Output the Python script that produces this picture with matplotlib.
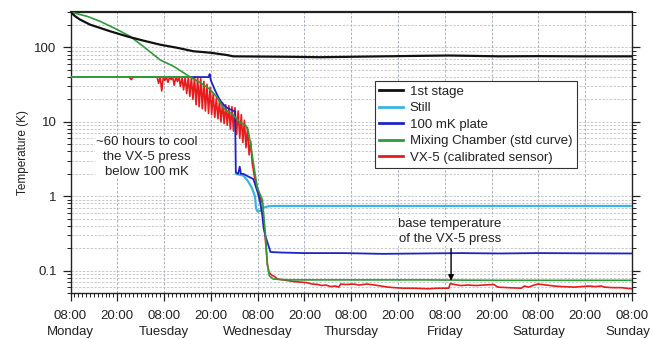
import matplotlib
matplotlib.use("Agg")
import matplotlib.pyplot as plt
from matplotlib.ticker import FixedLocator, MultipleLocator, NullFormatter, LogLocator
from matplotlib.transforms import blended_transform_factory

plt.rcParams['font.family'] = ['Liberation Sans', 'DejaVu Sans']

# ---------------- data (hours since Monday 08:00, temperature in K) ----------------
stage1_t = [0, 1.2, 2.4, 5, 10.2, 14.5, 18.6, 23, 27.4, 31.5, 35.9, 40.2, 41.8, 48.7, 56, 64, 72, 80, 88, 97, 104, 110, 120, 130, 144]
stage1_T = [300, 263, 238, 203, 165, 141, 124, 109, 99, 89, 85, 79, 76, 75.5, 75, 74, 75, 76, 77, 78, 77, 76, 76.5, 76, 76]

still_t = [42.4, 44.3, 45.5, 46.5, 47.3, 47.6, 48.0, 48.8, 49.5, 50.5, 52, 60, 70, 80, 90, 100, 110, 120, 130, 144]
still_T = [2.0, 1.9, 1.6, 1.3, 1.0, 0.68, 0.62, 0.64, 0.70, 0.73, 0.74, 0.74, 0.74, 0.74, 0.74, 0.74, 0.74, 0.74, 0.74, 0.74]

plate_t = [20, 35.4, 35.7, 36.0, 37.0, 38.0, 38.8, 40.0, 41.0, 42.2, 42.4, 43.0, 43.4, 43.7, 44.3, 45.5, 46.9, 48.0, 48.6, 49.2, 49.5, 50.0, 50.5, 51.3, 54, 60, 70, 80, 90, 100, 110, 120, 130, 144]
plate_T = [40, 40, 44, 36, 27, 21, 18, 15.6, 14.7, 13.8, 2.1, 2.0, 2.5, 2.0, 2.0, 1.85, 1.7, 1.13, 0.85, 0.55, 0.38, 0.29, 0.24, 0.178, 0.175, 0.172, 0.172, 0.168, 0.170, 0.172, 0.170, 0.172, 0.171, 0.170]

mc_flat_t = [0, 30.7]
mc_flat_T = [40, 40]
mc_t = [0, 4.2, 7.6, 12, 15.3, 18.6, 23, 26.4, 30.7, 33.3, 35.9, 37.7, 39.0, 40.2, 41.6, 42.3, 43.1, 44.9, 45.6, 46.2, 46.9, 47.9, 48.2, 49.2, 49.5, 50.0, 50.5, 51.0, 52.0, 55.7, 70, 90, 110, 130, 144]
mc_T = [300, 263, 225, 174, 141, 104, 68, 56, 40, 33.7, 27, 21, 16, 13.8, 12.6, 11.5, 10.1, 9.0, 7.5, 5.0, 2.8, 1.3, 1.2, 0.9, 0.6, 0.3, 0.12, 0.085, 0.077, 0.075, 0.075, 0.075, 0.074, 0.074, 0.074]

vx5_t = [15.0, 15.6, 16.0, 22.2, 22.6, 23.0, 23.4, 23.8, 24.2, 24.6, 25.0, 25.4, 25.8, 26.2, 26.6, 27.0, 27.4, 27.8, 28.2, 28.6,
         29.0, 29.4, 29.8, 30.2, 30.6, 31.0, 31.4, 31.8, 32.2, 32.6, 33.0, 33.4, 33.8, 34.2, 34.6, 35.0, 35.4, 35.8, 36.2,
         36.6, 37.0, 37.4, 37.8, 38.2, 38.6, 39.0, 39.4, 39.8, 40.2, 40.6, 41.0, 41.4, 41.8, 42.2, 42.6, 43.0, 43.4, 43.8,
         44.2, 44.6, 45.0, 45.4, 45.8, 46.2, 46.6, 47.2, 47.9, 48.5, 49.2, 49.5, 50.0, 50.5, 50.9, 51.5, 52.5, 53.1, 54.5,
         56, 57.5, 59, 60.5, 62, 63.5, 64.5, 65.5, 66.7, 68.0, 68.8, 69.3, 70.5, 72.6, 74, 76, 78, 79.6, 81.4, 83, 85.5, 88,
         91.7, 94, 97.0, 97.4, 98.5, 100.1, 102, 104, 106, 108.6, 109.6, 112, 115.6, 116.4, 117.5, 118.9, 119.9, 122,
         124.1, 126, 129.2, 131, 133, 134.5, 136.1, 136.9, 139, 141.3, 142.5, 144]
vx5_T = [40, 37, 40, 40, 33, 40, 26, 40, 36, 40, 34, 40, 37, 40, 31, 40, 35, 40, 30, 40,
         27, 40, 24, 40, 22, 40, 20, 40, 17, 40, 16, 38, 15, 35, 14, 32, 13, 29, 12.5,
         24, 11.5, 21, 11, 19, 10, 18, 9.5, 17, 9, 16.5, 8, 16, 7.5, 15.5, 6.8, 14, 6, 12.5,
         5.3, 10.5, 4.5, 8.4, 3.6, 5.5, 2.8, 1.8, 1.3, 1.0, 0.8, 0.5, 0.25, 0.12, 0.095, 0.088, 0.082, 0.077, 0.075,
         0.073, 0.071, 0.070, 0.069, 0.066, 0.065, 0.063, 0.064, 0.061, 0.062, 0.060, 0.066, 0.065, 0.066, 0.064, 0.066, 0.064, 0.062, 0.060, 0.059, 0.058, 0.058,
         0.057, 0.058, 0.058, 0.067, 0.065, 0.063, 0.064, 0.063, 0.064, 0.065, 0.060, 0.059, 0.058, 0.062, 0.060, 0.064, 0.066, 0.064,
         0.062, 0.061, 0.060, 0.061, 0.062, 0.061, 0.062, 0.060, 0.059, 0.059, 0.058, 0.057]

tick_hours = [0, 12, 24, 36, 48, 60, 72, 84, 96, 108, 120, 132, 144]
tick_labels = ['08:00', '20:00', '08:00', '20:00', '08:00', '20:00', '08:00',
               '20:00', '08:00', '20:00', '08:00', '20:00', '08:00']
day_hours = [0, 24, 48, 72, 96, 120, 144]
day_names = ['Monday', 'Tuesday', 'Wednesday', 'Thursday', 'Friday', 'Saturday', 'Sunday']
ytick_vals = [0.1, 1, 10, 100]
ytick_labels = ['0.1', '1', '10', '100']

series_labels = ['1st stage', 'Still', '100 mK plate', 'Mixing Chamber (std curve)', 'VX-5 (calibrated sensor)']

# ---------------- figure ----------------
W, H = 653, 339
fig = plt.figure(figsize=(W / 100, H / 100), dpi=100)
ax = fig.add_axes([70.5 / W, 1 - 293 / H, (632 - 70.5) / W, (293 - 12) / H])

c_black = '#111111'
c_still = '#3bb4e2'
c_plate = '#1c25c4'
c_mc = '#2f9a38'
c_vx = '#e81c1c'
txt = '#222222'

ax.plot(vx5_t, vx5_T, color=c_vx, lw=1.2, zorder=3)
ax.plot(still_t, still_T, color=c_still, lw=1.6, zorder=4)
ax.plot(plate_t, plate_T, color=c_plate, lw=1.3, zorder=5)
ax.plot(mc_flat_t, mc_flat_T, color=c_mc, lw=1.4, zorder=6)
ax.plot(mc_t, mc_T, color=c_mc, lw=1.2, zorder=6)
ax.plot(stage1_t, stage1_T, color=c_black, lw=1.6, zorder=7)

ax.set_yscale('log')
ax.set_xlim(0, 144)
ax.set_ylim(0.05, 300)

ax.xaxis.set_major_locator(FixedLocator(tick_hours))
ax.set_xticklabels(tick_labels)
ax.xaxis.set_minor_locator(MultipleLocator(1))
ax.yaxis.set_major_locator(FixedLocator(ytick_vals))
ax.set_yticklabels(ytick_labels)
ax.yaxis.set_minor_locator(LogLocator(base=10, subs=[2, 3, 4, 5, 6, 7, 8, 9]))
ax.yaxis.set_minor_formatter(NullFormatter())

ax.tick_params(axis='both', which='major', direction='out', length=6, width=0.9, colors=txt,
               labelsize=9.5, labelcolor=txt)
ax.tick_params(axis='both', which='minor', direction='out', length=3, width=0.7, colors=txt)
ax.tick_params(axis='y', which='both', right=True, left=True)
ax.tick_params(axis='y', which='major', pad=4)
ax.tick_params(axis='x', which='major', pad=6)

# day names on a second line under the 08:00 ticks
trans = blended_transform_factory(ax.transData, ax.transAxes)
for h, name in zip(day_hours, day_names):
    xo = h if h < 144 else h - 1.0
    ax.text(xo, -0.139, name, transform=trans, ha='center', va='center', fontsize=9.5,
            color=txt, clip_on=False)

ax.grid(True, axis='x', which='major', linestyle=(0, (3, 2)), color='#9aa0b8', lw=0.6)
ax.grid(True, axis='y', which='both', linestyle=(0, (3, 2)), color='#b8b8b8', lw=0.55)
ax.set_axisbelow(True)

for s in ax.spines.values():
    s.set_color('#222222')
    s.set_linewidth(1.0)
ax.spines['top'].set_linewidth(1.6)

ax.set_ylabel('Temperature (K)', fontsize=8.5, color=txt, labelpad=4)

leg = ax.legend([ax.lines[5], ax.lines[1], ax.lines[2], ax.lines[4], ax.lines[0]], series_labels,
                loc='upper left', bbox_to_anchor=(0.542, 0.754), fontsize=9.5, frameon=True,
                fancybox=False, framealpha=1, edgecolor='#333333', labelspacing=0.32,
                handlelength=1.8, handletextpad=0.5, borderpad=0.35, borderaxespad=0)
leg.get_frame().set_linewidth(0.8)
for line in leg.get_lines():
    line.set_linewidth(2.0)
for t in leg.get_texts():
    t.set_color(txt)
leg.set_zorder(10)

ax.text(0.136, 0.484, '~60 hours to cool\nthe VX-5 press\nbelow 100 mK', transform=ax.transAxes,
        ha='center', va='center', fontsize=9.5, color=txt, linespacing=1.3,
        bbox=dict(facecolor='white', edgecolor='none', pad=1), zorder=8)

ax.annotate('', xy=(97.6, 0.067), xytext=(97.6, 0.215),
            arrowprops=dict(arrowstyle='-|>', color='black', lw=1.0, mutation_scale=8), zorder=9)
ax.text(97.3, 0.334, 'base temperature\nof the VX-5 press', ha='center', va='center', fontsize=9.5,
        color=txt, linespacing=1.3, bbox=dict(facecolor='white', edgecolor='none', pad=1), zorder=8)

fig.savefig('out.png', dpi=100)
